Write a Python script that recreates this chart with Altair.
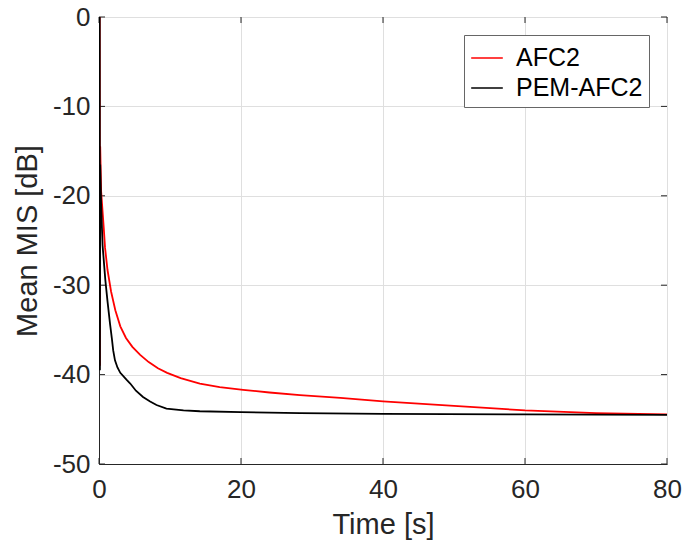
import altair as alt
import pandas as pd

# AFC2 (red)
afc2_t = [0.1, 0.13, 0.17, 0.3, 0.66, 0.85, 1.2, 1.7, 2.3, 3.0, 3.8, 4.7, 5.8, 7, 8.3, 9.6,
          11.5, 14.2, 17, 20.3, 24, 28.3, 34, 40, 50, 60, 70, 80]
afc2_v = [0, -39, -14.5, -19.5, -23.5, -25.8, -28.3, -30.7, -32.8, -34.6, -35.9, -36.9, -37.8,
          -38.6, -39.3, -39.8, -40.4, -41.0, -41.4, -41.7, -42.0, -42.3, -42.6, -43.0, -43.5,
          -44.0, -44.3, -44.45]

# PEM-AFC2 (black)
pem_t = [0.1, 0.13, 0.17, 0.3, 0.5, 0.89, 1.2, 1.55, 1.83, 2.0, 2.25, 2.6, 3.0, 3.9, 4.4, 5.2,
         6.2, 7.2, 8.1, 9.5, 11.9, 14.2, 20, 28.3, 40, 60, 80]
pem_v = [0, -39.5, -16.5, -21, -25.5, -29.4, -31.8, -34.3, -36.1, -37.3, -38.4, -39.2, -39.8,
         -40.6, -41.0, -41.8, -42.5, -43.0, -43.4, -43.8, -44.0, -44.1, -44.2, -44.3, -44.4,
         -44.45, -44.5]

series_names = ["AFC2", "PEM-AFC2"]
series_colors = ["#ff0000", "#000000"]

x_ticks = [0, 20, 40, 60, 80]
y_ticks = [-50, -40, -30, -20, -10, 0]

rows = []
for t, v in zip(afc2_t, afc2_v):
    rows.append({"t": t, "v": v, "s": "AFC2", "o": 0})
for t, v in zip(pem_t, pem_v):
    rows.append({"t": t, "v": v, "s": "PEM-AFC2", "o": 1})
df = pd.DataFrame(rows)

FONT = "Liberation Sans"
TXT = "#262626"

xs = alt.Scale(domain=[0, 80], nice=False)
ys = alt.Scale(domain=[-50, 0], nice=False)

lab = "'' + datum.value"

lines = alt.Chart(df).mark_line(strokeWidth=1.8, clip=True).encode(
    x=alt.X("t:Q", scale=xs, title="Time [s]",
            axis=alt.Axis(values=x_ticks, ticks=False, labelPadding=12, titlePadding=8,
                          labelExpr=lab, labelFlush=False)),
    y=alt.Y("v:Q", scale=ys, title="Mean MIS [dB]",
            axis=alt.Axis(values=y_ticks, ticks=False, labelPadding=9, titlePadding=10,
                          labelExpr=lab, labelFlush=False)),
    color=alt.Color("s:N", scale=alt.Scale(domain=series_names, range=series_colors),
                    legend=alt.Legend(title=None, orient="top-right", offset=18,
                                      symbolType="stroke", symbolSize=1000,
                                      symbolStrokeWidth=1.5, labelFontSize=25,
                                      labelFont=FONT, labelColor="#000000",
                                      strokeColor="#666666", fillColor="white",
                                      padding=6, rowPadding=0, labelOffset=12)),
    order=alt.Order("o:Q"),
    detail="s:N",
)

xt = pd.DataFrame({"x": x_ticks})
yt = pd.DataFrame({"y": y_ticks})

tick_style = dict(color=TXT, strokeWidth=1)
xb = alt.Chart(xt).mark_rule(**tick_style).encode(
    x=alt.X("x:Q", scale=xs), y=alt.value(447), y2=alt.value(441))
xtop = alt.Chart(xt).mark_rule(**tick_style).encode(
    x=alt.X("x:Q", scale=xs), y=alt.value(0), y2=alt.value(6))
yl = alt.Chart(yt).mark_rule(**tick_style).encode(
    y=alt.Y("y:Q", scale=ys), x=alt.value(0), x2=alt.value(6))
yr = alt.Chart(yt).mark_rule(**tick_style).encode(
    y=alt.Y("y:Q", scale=ys), x=alt.value(568), x2=alt.value(562))

chart = alt.layer(xb, xtop, yl, yr, lines).properties(
    width=568, height=447,
    autosize=alt.AutoSizeParams(type="none"),
    padding={"left": 99, "top": 17, "right": 19, "bottom": 90},
    background="white",
).configure_view(stroke=TXT, strokeWidth=1).configure_axis(
    labelFont=FONT, titleFont=FONT, labelFontSize=26, titleFontSize=29,
    labelColor=TXT, titleColor=TXT, titleFontWeight="normal",
    domainColor=TXT, domainWidth=1, gridColor="#dfdfdf", gridWidth=1,
)

chart.save("out.html", embed_options={"renderer": "svg", "actions": False})
